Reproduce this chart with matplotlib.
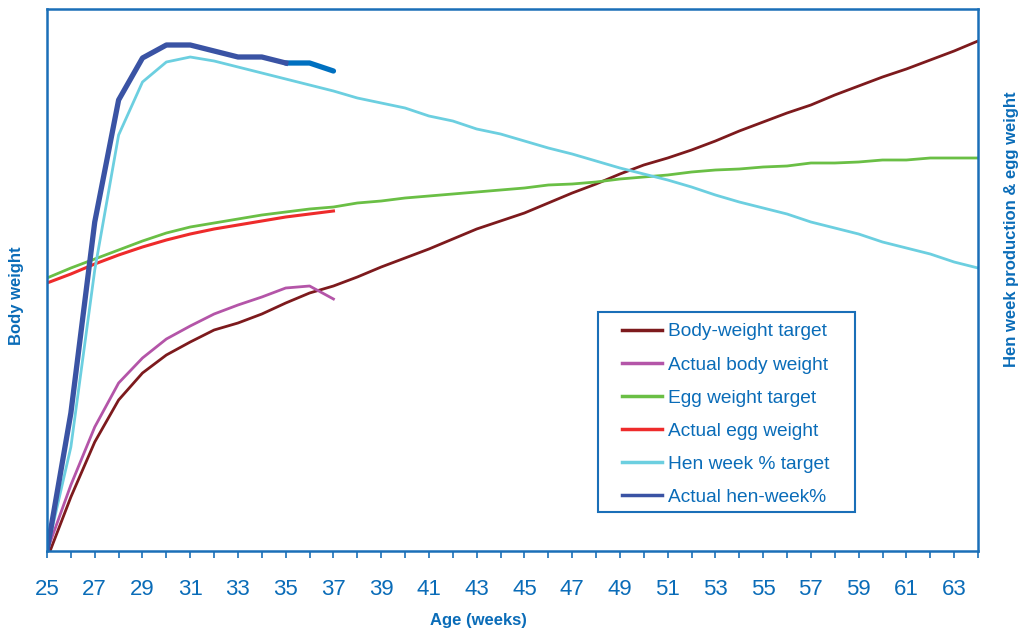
import numpy as np
import matplotlib
matplotlib.use("Agg")
import matplotlib.pyplot as plt
from matplotlib.patches import Rectangle

plt.rcParams['font.family'] = ['Liberation Sans', 'DejaVu Sans']

# weeks of age
weeks = list(range(25, 65))
weeks_actual = list(range(25, 38))

# values (arbitrary units, no y scale shown)
body_target = [-8, 54, 109, 151, 178, 196, 209, 221, 228, 237, 248, 258, 265, 274,
               284, 293, 302, 312, 322, 330, 338, 348, 358, 367, 377, 386, 393, 401,
               410, 420, 429, 438, 446, 456, 465, 474, 482, 491, 500, 510]
body_actual = [0, 66, 124, 168, 193, 212, 225, 237, 246, 254, 263, 265, 252]
egg_target = [273, 283, 292, 301, 310, 318, 324, 328, 332, 336, 339, 342, 344, 348,
              350, 353, 355, 357, 359, 361, 363, 366, 367, 369, 372, 374, 376, 379,
              381, 382, 384, 385, 388, 388, 389, 391, 391, 393, 393, 393]
egg_actual = [268, 277, 287, 296, 304, 311, 317, 322, 326, 330, 334, 337, 340]
hen_target = [0, 104, 281, 416, 469, 489, 494, 490, 484, 478, 472, 466, 460, 453,
              448, 443, 435, 430, 422, 417, 410, 403, 397, 390, 383, 377, 371, 364,
              356, 349, 343, 337, 329, 323, 317, 309, 303, 297, 289, 283]
hen_actual = [0, 138, 329, 451, 493, 506, 506, 500, 494, 494, 488, 488, 480]

blue = "#1a6fb8"
text_blue = "#0a6cb8"

fig = plt.figure(figsize=(10.21, 6.29), dpi=100)
ax = fig.add_axes([47 / 1021, 78 / 629, 931 / 1021, 542 / 629])

ax.plot(weeks, body_target, color="#7d1a1d", lw=2.0, label="Body-weight target")
ax.plot(weeks_actual, body_actual, color="#b455a8", lw=2.0, label="Actual body weight")
ax.plot(weeks, egg_target, color="#6abf45", lw=2.0, label="Egg weight target")
ax.plot(weeks_actual, egg_actual, color="#ee2b2b", lw=2.2, label="Actual egg weight")
ax.plot(weeks, hen_target, color="#6ccfe0", lw=2.0, label="Hen week % target")
# last weeks of actual hen-week drawn in a lighter blue
ax.plot(weeks_actual[10:], hen_actual[10:], color="#0070c0", lw=3.8,
        solid_capstyle="round")
ax.plot(weeks_actual[:11], hen_actual[:11], color="#3a53a4", lw=3.8,
        label="Actual hen-week%")

ax.set_xlim(25, 64)
ax.set_ylim(0, 542)
ax.set_xticks(weeks)
ax.set_xticklabels([str(w) if (w - 25) % 2 == 0 else "" for w in weeks])
ax.tick_params(axis="x", direction="out", length=5, width=1.2, color=blue,
               labelcolor=text_blue, labelsize=16, pad=15)
ax.set_yticks([])
for s in ax.spines.values():
    s.set_color(blue)
    s.set_linewidth(1.8)

# legend box drawn separately so the padding can differ per side
ax.add_patch(Rectangle((598 / 1021, 1 - 512 / 629), 257 / 1021, 200 / 629,
                       transform=fig.transFigure, facecolor="white",
                       edgecolor=blue, lw=1.5, zorder=4.5))
leg = ax.legend(loc="upper left", bbox_to_anchor=(622 / 1021, 1 - 323 / 629),
                bbox_transform=fig.transFigure,
                frameon=False, fontsize=13.8, handlelength=2.1,
                handletextpad=0.3, labelspacing=0.82, borderpad=0,
                borderaxespad=0)
for t in leg.get_texts():
    t.set_color(text_blue)
for h in leg.get_lines():
    h.set_linewidth(2.5)

fig.text(478 / 1021, 1 - 620 / 629, "Age (weeks)", color=text_blue,
         fontsize=12, fontweight="bold", ha="center", va="center")
fig.text(17 / 1021, 1 - 296 / 629, "Body weight", color=text_blue,
         fontsize=12, fontweight="bold", ha="center", va="center", rotation=90)
fig.text(1011 / 1021, 1 - 229 / 629, "Hen week production & egg weight",
         color=text_blue, fontsize=12, fontweight="bold", ha="center",
         va="center", rotation=90)

fig.savefig("out.png", dpi=100)
